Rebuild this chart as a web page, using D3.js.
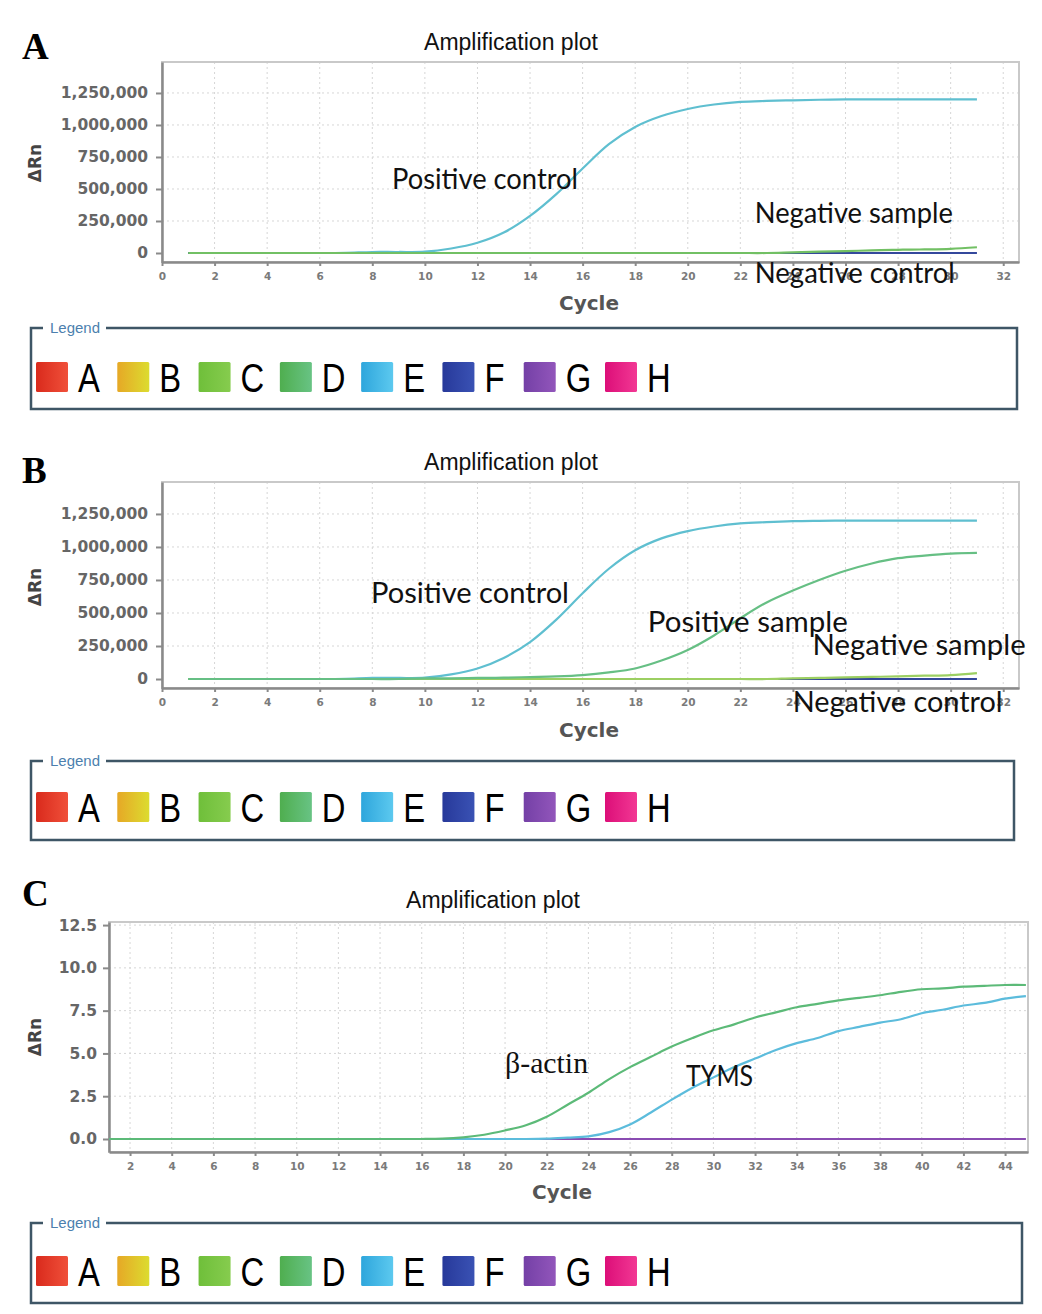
<!DOCTYPE html>
<html>
<head>
<meta charset="utf-8">
<script src="https://cdn.jsdelivr.net/npm/d3@7"></script>
<style>
  body { margin: 0; background: #fff; }
  svg text { font-family: "DejaVu Sans", sans-serif; }
</style>
</head>
<body>
<svg id="fig"></svg>
<script>
// ---- data ----

const cyclesAB = [1,2,3,4,5,6,7,8,9,10,11,12,13,14,15,16,17,18,19,20,21,22,23,24,25,26,27,28,29,30,31]
const cyclesC = [1,2,3,4,5,6,7,8,9,10,11,12,13,14,15,16,17,18,19,20,21,22,23,24,25,26,27,28,29,30,31,32,33,34,35,36,37,38,39,40,41,42,43,44,45]

// panel A
const posControlA = [0,0,0,0,0,0,2000,8000,8000,10000,35000,80000,160000,290000,460000,660000,850000,985000,1070000,1125000,1160000,1180000,1188000,1193000,1197000,1200000,1200000,1200000,1200000,1200000,1200000]
const negSampleA = [0,0,0,0,0,0,0,0,0,0,0,0,0,0,0,0,0,0,0,0,0,0,0,5000,10000,15000,20000,25000,28000,33000,45000]
const negControlA = [0,0,0,0,0,0,0,0,0,0,0,0,0,0,0,0,0,0,0,0,0,0,0,0,0,0,0,0,0,0,0]

// panel B
const posControlB = [0,0,0,0,0,0,2000,8000,8000,10000,35000,80000,160000,280000,450000,650000,835000,975000,1065000,1120000,1155000,1178000,1188000,1195000,1198000,1200000,1200000,1200000,1200000,1200000,1200000]
const posSampleB = [0,0,0,0,0,0,0,0,0,5000,5000,8000,10000,15000,20000,30000,50000,80000,140000,220000,330000,460000,580000,670000,750000,820000,875000,915000,935000,950000,955000]
const negSampleB = [0,0,0,0,0,0,0,0,0,0,0,0,0,0,0,0,0,0,0,0,0,0,0,5000,8000,12000,16000,20000,25000,30000,45000]
const negControlB = [0,0,0,0,0,0,0,0,0,0,0,0,0,0,0,0,0,0,0,0,0,0,0,0,0,0,0,0,0,0,0]

// panel C
const betaActin = [0,0,0,0,0,0,0,0,0,0,0,0,0,0,0,0,0.02,0.1,0.25,0.5,0.8,1.3,2.0,2.7,3.5,4.2,4.8,5.4,5.9,6.35,6.7,7.1,7.4,7.7,7.9,8.1,8.25,8.4,8.6,8.75,8.8,8.9,8.95,9.0,9.0]
const tyms = [0,0,0,0,0,0,0,0,0,0,0,0,0,0,0,0,0,0,0,0,0,0.02,0.08,0.15,0.4,0.85,1.55,2.3,3.0,3.6,4.2,4.7,5.2,5.6,5.9,6.3,6.55,6.8,7.0,7.35,7.55,7.8,7.95,8.2,8.35]
const ntcC = [0,0,0,0,0,0,0,0,0,0,0,0,0,0,0,0,0,0,0,0,0,0,0,0,0,0,0,0,0,0,0,0,0,0,0,0,0,0,0,0,0,0,0,0,0]

// ticks
const xTicksAB = [0,2,4,6,8,10,12,14,16,18,20,22,24,26,28,30,32]
const yTicksAB = [0,250000,500000,750000,1000000,1250000]
const xTicksC = [2,4,6,8,10,12,14,16,18,20,22,24,26,28,30,32,34,36,38,40,42,44]
const yTicksC = [0,2.5,5,7.5,10,12.5]

// legend
const legendKeys = ["A","B","C","D","E","F","G","H"]
const legendColors = [["#d92a1c","#f0503a"],["#e6a826","#dcdc30"],["#6fbf3a","#86cc4e"],["#4fae4f","#68c384"],["#2ea6dc","#5cc9ef"],["#27399a","#3a52b4"],["#7440a6","#9256bb"],["#dc0e78","#f23894"]]

// ---- drawing ----

const svg = d3.select("#fig").attr("width", 1042).attr("height", 1314)

const defs = svg.append("defs")
legendColors.forEach((c, i) => {
    const grad = defs.append("linearGradient").attr("id", "sw" + i)
    grad.append("stop").attr("offset", "0%").attr("stop-color", c[0])
    grad.append("stop").attr("offset", "100%").attr("stop-color", c[1])
})

const panels = [
    {
        letter: "A", letterY: 59, titleX: 511, titleY: 50,
        left: 162, right: 1019, top: 62, bottom: 262,
        xDomain: [0, 32.6], yDomain: [-70300, 1492000],
        cycles: cyclesAB, xTicks: xTicksAB, yTicks: yTicksAB, yFormat: d3.format(","),
        tickPadY: 8, ylabY: 163, cycleX: 589, cycleY: 310,
        series: [
            {values: posControlA, color: "#5fbfd0"},
            {values: negControlA, color: "#34489c"},
            {values: negSampleA, color: "#72c064"}
        ],
        notes: [
            {text: "Positive control", cx: 8.75, v: 500000, w: 186},
            {text: "Negative sample", cx: 22.55, v: 234000, w: 198},
            {text: "Negative control", cx: 22.55, v: -234000, w: 200}
        ],
        legend: {left: 31, right: 1017, top: 328, bottom: 409, swTop: 362}
    },
    {
        letter: "B", letterY: 483, titleX: 511, titleY: 470,
        left: 162, right: 1019, top: 482, bottom: 688,
        xDomain: [0, 32.6], yDomain: [-68000, 1492000],
        cycles: cyclesAB, xTicks: xTicksAB, yTicks: yTicksAB, yFormat: d3.format(","),
        tickPadY: 8, ylabY: 587, cycleX: 589, cycleY: 737,
        series: [
            {values: negControlB, color: "#34489c"},
            {values: posControlB, color: "#5fbfd0"},
            {values: negSampleB, color: "#9ccf62"},
            {values: posSampleB, color: "#66bf84"}
        ],
        notes: [
            {text: "Positive control", cx: 7.95, v: 576000, w: 198},
            {text: "Positive sample", cx: 18.48, v: 356000, w: 200},
            {text: "Negative sample", cx: 24.75, v: 182000, w: 213},
            {text: "Negative control", cx: 23.99, v: -250000, w: 210}
        ],
        legend: {left: 31, right: 1014, top: 761, bottom: 840, swTop: 792}
    },
    {
        letter: "C", letterY: 906, titleX: 493, titleY: 908,
        left: 109, right: 1028, top: 922, bottom: 1152,
        xDomain: [0.99, 45.1], yDomain: [-0.76, 12.68],
        cycles: cyclesC, xTicks: xTicksC, yTicks: yTicksC, yFormat: d3.format(".1f"),
        tickPadY: 6, ylabY: 1037, cycleX: 562, cycleY: 1199,
        series: [
            {values: ntcC, color: "#8a4cb2"},
            {values: tyms, color: "#5cbcdc"},
            {values: betaActin, color: "#5cba78"}
        ],
        notes: [
            {text: "β-actin", cx: 20.0, v: 3.86, w: 83, serif: true},
            {text: "TYMS", cx: 28.69, v: 3.1, w: 67}
        ],
        legend: {left: 31, right: 1022, top: 1223, bottom: 1303, swTop: 1256}
    }
]

function drawPanel(p) {
    const g = svg.append("g")
    const x = d3.scaleLinear().domain(p.xDomain).range([p.left, p.right])
    const y = d3.scaleLinear().domain(p.yDomain).range([p.bottom, p.top])

    // panel letter + title
    g.append("text").attr("x", 22).attr("y", p.letterY).text(p.letter)
        .style("font-family", "'Liberation Serif', serif").style("font-weight", "bold").style("font-size", "37px")
    g.append("text").attr("x", p.titleX).attr("y", p.titleY).attr("text-anchor", "middle").text("Amplification plot")
        .style("font-family", "'Liberation Sans', Arial, sans-serif").style("font-size", "23px").attr("fill", "#111")

    // grid
    g.selectAll(".vg").data(p.xTicks.filter(d => d > p.xDomain[0] + 0.5))
        .join("line")
        .attr("x1", d => x(d)).attr("x2", d => x(d))
        .attr("y1", p.top).attr("y2", p.bottom)
        .attr("stroke", "#d6d6d6").attr("stroke-dasharray", "2,3")
    g.selectAll(".hg").data(p.yTicks.filter(d => d > 0))
        .join("line")
        .attr("x1", p.left).attr("x2", p.right)
        .attr("y1", d => y(d)).attr("y2", d => y(d))
        .attr("stroke", "#d6d6d6").attr("stroke-dasharray", "2,3")

    // frame
    g.append("rect").attr("x", p.left).attr("y", p.top)
        .attr("width", p.right - p.left).attr("height", p.bottom - p.top)
        .attr("fill", "none").attr("stroke", "#c9c9c9").attr("stroke-width", 2)

    // axes
    const xa = g.append("g").attr("transform", `translate(0,${p.bottom})`)
        .call(d3.axisBottom(x).tickValues(p.xTicks).tickSize(4).tickSizeOuter(0).tickPadding(7).tickFormat(d3.format("d")))
    const ya = g.append("g").attr("transform", `translate(${p.left},0)`)
        .call(d3.axisLeft(y).tickValues(p.yTicks).tickSize(6).tickSizeOuter(0).tickPadding(p.tickPadY).tickFormat(p.yFormat))
    ;[xa, ya].forEach(a => {
        a.select(".domain").attr("stroke", "#8a8a8a").attr("stroke-width", 2.5)
        a.selectAll(".tick line").attr("stroke", "#8a8a8a").attr("stroke-width", 2)
    })
    xa.selectAll("text").attr("fill", "#7a7a7a").style("font-size", "10.5px").style("font-weight", "bold")
    ya.selectAll("text").attr("fill", "#666").style("font-size", "15.5px").style("font-weight", "bold")

    // axis titles
    g.append("text").attr("transform", `translate(41,${p.ylabY}) rotate(-90)`).attr("text-anchor", "middle")
        .text("ΔRn").attr("fill", "#444").style("font-size", "17px").style("font-weight", "bold")
    g.append("text").attr("x", p.cycleX).attr("y", p.cycleY).attr("text-anchor", "middle")
        .text("Cycle").attr("fill", "#555").style("font-size", "20px").style("font-weight", "bold")

    // curves
    const line = d3.line()
        .x((d, i) => x(p.cycles[i]))
        .y(d => y(d))
        .curve(d3.curveCatmullRom.alpha(0.5))
    g.selectAll(".curve").data(p.series)
        .join("path")
        .attr("d", s => line(s.values))
        .attr("fill", "none")
        .attr("stroke", s => s.color)
        .attr("stroke-width", 2.2)

    // annotations
    g.selectAll(".note").data(p.notes)
        .join("text")
        .attr("x", d => x(d.cx)).attr("y", d => y(d.v))
        .attr("textLength", d => d.w).attr("lengthAdjust", "spacingAndGlyphs")
        .text(d => d.text)
        .attr("fill", "#111")
        .style("font-family", d => d.serif ? "'Liberation Serif', serif" : "Lato, 'Open Sans', sans-serif")
        .style("font-size", d => d.serif ? "29px" : "28px")

    drawLegend(p.legend)
}

function drawLegend(L) {
    const g = svg.append("g")
    const stroke = "#3e5666"
    g.append("path")
        .attr("d", `M43,${L.top} H${L.left} V${L.bottom} H${L.right} V${L.top} H106`)
        .attr("fill", "none").attr("stroke", stroke).attr("stroke-width", 2.5)
    g.append("text").attr("x", 50).attr("y", L.top + 5).text("Legend")
        .attr("textLength", 50).attr("lengthAdjust", "spacingAndGlyphs")
        .attr("fill", "#4c7fae")
        .style("font-family", "'Liberation Sans', sans-serif").style("font-size", "14px")

    const pos = d3.scalePoint().domain(legendKeys).range([36, 605])
    const item = g.selectAll(".item").data(legendKeys)
        .join("g").attr("transform", d => `translate(${pos(d)},${L.swTop})`)
    item.append("rect").attr("width", 32).attr("height", 30).attr("rx", 1.5)
        .attr("fill", (d, i) => `url(#sw${i})`)
    // narrow letters, as in the original
    item.append("text").attr("transform", "translate(42,30) scale(0.82,1)").text(d => d)
        .attr("fill", "#000")
        .style("font-family", "'Liberation Sans', Arial, sans-serif")
        .style("font-size", "40px")
}

panels.forEach(drawPanel)
</script>
</body>
</html>
